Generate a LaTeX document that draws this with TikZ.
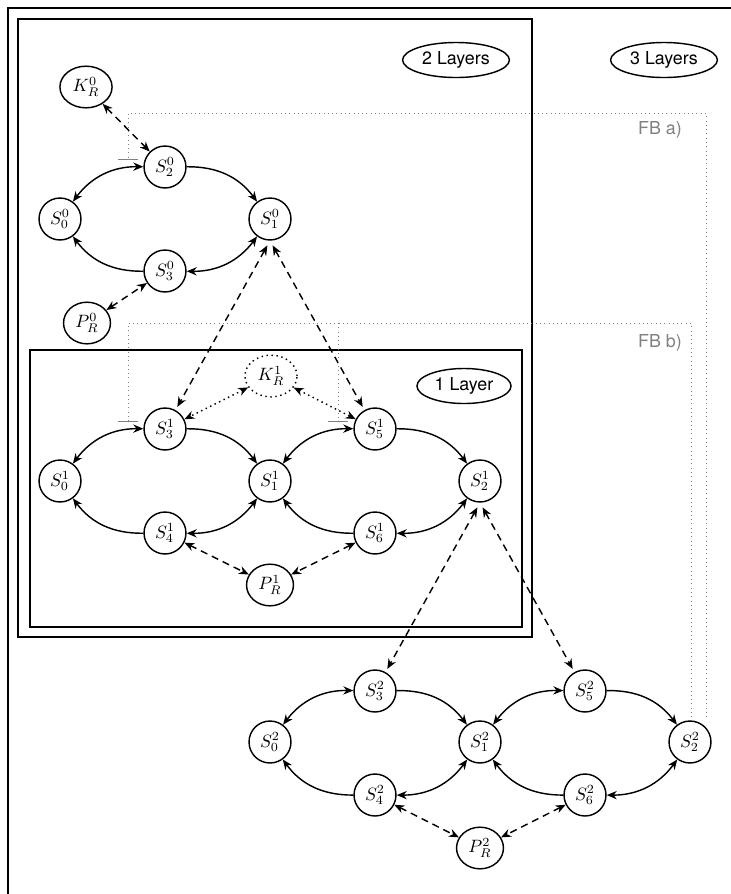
\documentclass[tikz,border=0pt]{standalone}
\usepackage{fontspec}
\setsansfont{TeX Gyre Heros}
\usetikzlibrary{shapes.geometric,arrows.meta,calc}

\tikzset{
  st/.style={circle, draw, thick, minimum size=23.5pt, inner sep=0pt},
  res/.style={ellipse, draw, thick, inner sep=2.8pt},
  tag/.style={ellipse, draw, thick, font=\sffamily, inner sep=2.2pt},
  frame/.style={draw, thick},
  trans/.style={thick, bend left=27},
  link/.style={thick, dash pattern=on 4pt off 2.8pt, <->},
  keylink/.style={thick, dotted, <->},
  fb/.style={gray, dotted, -{Bar[width=11pt,line width=0.6pt]}},
  fbtext/.style={gray, font=\sffamily},
  >={Stealth[length=5.6pt,width=4.6pt,inset=1.8pt]}
}

\begin{document}
\begin{tikzpicture}[x=0.56pt,y=-0.56pt]
  \clip (0,0) rectangle (731,894);

  % nested layer frames
  \draw[frame] (8,8) rectangle (745,910);
  \draw[frame] (18,19) rectangle (532,637);
  \draw[frame] (30,350) rectangle (522,627);

  \node[tag] (lay2) at (456,60) {2 Layers};
  \node[tag] (lay3) at (664,60) {3 Layers};
  \node[tag] (lay1) at (464,386) {1 Layer};

  % layer 0
  \node[st] (S00) at (60,219) {$S^0_0$};
  \node[st] (S20) at (165,167) {$S^0_2$};
  \node[st] (S10) at (270,219) {$S^0_1$};
  \node[st] (S30) at (165,271) {$S^0_3$};
  \node[res] (K0) at (86,87) {$K^0_R$};
  \node[res] (P0) at (87,323) {$P^0_R$};

  % layer 1
  \node[st] (S01) at (60,481) {$S^1_0$};
  \node[st] (S31) at (165,429) {$S^1_3$};
  \node[st] (S11) at (270,481) {$S^1_1$};
  \node[st] (S41) at (165,533) {$S^1_4$};
  \node[st] (S51) at (375,429) {$S^1_5$};
  \node[st] (S21) at (480,481) {$S^1_2$};
  \node[st] (S61) at (375,533) {$S^1_6$};
  \node[res, dotted] (K1) at (271,376) {$K^1_R$};
  \node[res] (P1) at (270,585) {$P^1_R$};

  % layer 2
  \node[st] (S02) at (270,742) {$S^2_0$};
  \node[st] (S32) at (375,691) {$S^2_3$};
  \node[st] (S12) at (480,742) {$S^2_1$};
  \node[st] (S42) at (375,795) {$S^2_4$};
  \node[st] (S52) at (585,691) {$S^2_5$};
  \node[st] (S22) at (690,742) {$S^2_2$};
  \node[st] (S62) at (585,795) {$S^2_6$};
  \node[res] (P2) at (480,848) {$P^2_R$};

  % transitions inside each layer
  \path[trans] (S00) edge[<->] (S20)
               (S20) edge[->] (S10)
               (S30) edge[->] (S00)
               (S10) edge[<->] (S30);
  \path[trans] (S01) edge[<->] (S31)
               (S31) edge[->] (S11)
               (S41) edge[->] (S01)
               (S11) edge[<->] (S41)
               (S11) edge[<->] (S51)
               (S51) edge[->] (S21)
               (S61) edge[->] (S11)
               (S21) edge[<->] (S61);
  \path[trans] (S02) edge[<->] (S32)
               (S32) edge[->] (S12)
               (S42) edge[->] (S02)
               (S12) edge[<->] (S42)
               (S12) edge[<->] (S52)
               (S52) edge[->] (S22)
               (S62) edge[->] (S12)
               (S22) edge[<->] (S62);

  % key and plaintext links
  \draw[link] (K0) -- (S20);
  \draw[link] (P0) -- (S30);
  \draw[link] (S41) -- (P1);
  \draw[link] (S61) -- (P1);
  \draw[link] (S42) -- (P2);
  \draw[link] (S62) -- (P2);
  \draw[keylink] (K1) -- (S31);
  \draw[keylink] (K1) -- (S51);

  % links between layers
  \draw[link, shorten <=3pt, shorten >=2pt] (S10.south) -- (S31);
  \draw[link, shorten <=3pt, shorten >=2pt] (S10.south) -- (S51);
  \draw[link, shorten <=3pt, shorten >=2pt] (S21.south) -- (S32);
  \draw[link, shorten <=3pt, shorten >=2pt] (S21.south) -- (S52);

  % feedback paths
  \coordinate (fbAout) at ($(S22)+(16,-25)$);
  \coordinate (fbAin) at ($(S20)+(-37,-7)$);
  \coordinate (fbAturn) at ($(fbAin)+(0,-47)$);
  \draw[fb] (fbAout) |- (fbAturn) -- (fbAin);

  \coordinate (fbBout) at ($(S22)+(1,-25)$);
  \coordinate (fbBin1) at ($(S31)+(-37,-7)$);
  \coordinate (fbBin2) at ($(S51)+(-37,-7)$);
  \coordinate (fbBturn) at ($(fbBin1)+(0,-99)$);
  \draw[fb] (fbBout) |- (fbBturn) -- (fbBin1);
  \draw[fb] (fbBin2 |- fbBturn) -- (fbBin2);

  \node[fbtext] (fbAlabel) at (660,130) {FB a)};
  \node[fbtext] (fbBlabel) at (660,343) {FB b)};
\end{tikzpicture}
\end{document}
